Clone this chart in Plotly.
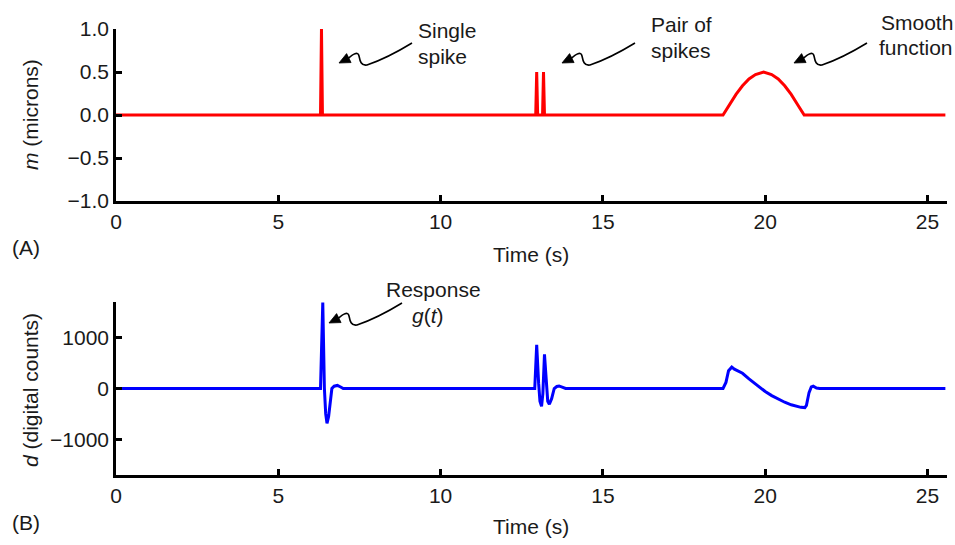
import plotly.graph_objects as go

# ---- data -------------------------------------------------------------
# Input model m(t): one spike, a pair of spikes and a smooth half-sine bump
m_time = [0.00, 6.30, 6.33, 6.36,
          12.93, 12.96, 12.99, 13.14, 13.17, 13.20,
          18.70, 18.90, 19.10, 19.30, 19.50, 19.70, 19.95,
          20.20, 20.40, 20.60, 20.80, 21.00, 21.20, 25.55]
m_microns = [0.0, 0.0, 1.0, 0.0,
             0.0, 0.5, 0.0, 0.0, 0.5, 0.0,
             0.0, 0.12, 0.24, 0.34, 0.42, 0.47, 0.50,
             0.47, 0.42, 0.34, 0.24, 0.12, 0.0, 0.0]

# Recorded output d(t)
d_time = [0.00, 6.30, 6.37, 6.42, 6.46, 6.50, 6.55, 6.60, 6.65, 6.72, 6.82, 6.92, 7.00,
          12.90, 12.96, 13.02, 13.06, 13.11, 13.15, 13.20, 13.26, 13.30, 13.35, 13.42,
          13.50, 13.58, 13.65, 13.75, 13.85,
          18.70, 18.79, 18.87, 18.97, 19.05, 19.30, 19.50, 19.80, 20.00, 20.20, 20.40,
          20.60, 20.80, 21.00, 21.10, 21.22, 21.27, 21.35, 21.42, 21.48, 21.58, 21.68,
          25.55]
d_counts = [0, 0, 1690, 0, -500, -686, -550, -250, 0, 45, 60, 30, 0,
            0, 860, 100, -250, -350, -100, 670, 0, -250, -310, -200,
            0, 40, 50, 20, 0,
            0, 120, 350, 420, 380, 300, 190, 40, -60, -140, -210,
            -270, -320, -360, -370, -375, -330, -80, 30, 45, 10, 0,
            0]

time_ticks = [0, 5, 10, 15, 20, 25]
m_ticks = [-1.0, -0.5, 0.0, 0.5, 1.0]
m_tick_text = ["\u22121.0", "\u22120.5", "0.0", "0.5", "1.0"]
d_ticks = [-1000, 0, 1000]
d_tick_text = ["\u22121000", "0", "1000"]

# ---- layout helpers ---------------------------------------------------
W, H = 955, 545
FONT = "Liberation Sans, Arial, Helvetica, sans-serif"
TXT = "#1a1a1a"
FS = 21


def px(x):
    return x / W


def py(y):
    return 1 - y / H


def squiggle(tip_x, tip_y):
    """Wavy arrow shaft plus a filled head ending at the pixel (tip_x, tip_y)."""
    def p(dx, dy):
        return f"{px(tip_x + dx):.5f},{py(tip_y + dy):.5f}"
    shaft = (f"M {p(9, -4.5)} C {p(14, -9)} {p(19, -12)} {p(20, -7)} "
             f"C {p(21, -2)} {p(22, 3)} {p(28, 2)} "
             f"C {p(40, -2)} {p(55, -9)} {p(73, -20)}")
    # head: pointing along (-10, 5)
    ux, uy = -0.894, 0.447
    nx, ny = -uy, ux
    L, hw = 11, 5
    bx, by = -ux * L, -uy * L
    head = (f"M {p(0, 0)} L {p(bx + nx * hw, by + ny * hw)} "
            f"L {p(bx - nx * hw, by - ny * hw)} Z")
    return [
        dict(type="path", xref="paper", yref="paper", path=shaft,
             line=dict(color="black", width=1.6)),
        dict(type="path", xref="paper", yref="paper", path=head,
             fillcolor="black", line=dict(color="black", width=0.8)),
    ]


def label(x, y, text, xanchor="left", angle=0):
    return dict(x=px(x), y=py(y), xref="paper", yref="paper", text=text,
                showarrow=False, xanchor=xanchor, yanchor="middle",
                textangle=angle, font=dict(family=FONT, size=FS, color=TXT))


# ---- figure -----------------------------------------------------------
fig = go.Figure()
fig.add_trace(go.Scatter(x=m_time, y=m_microns, mode="lines",
                         line=dict(color="#ff0000", width=3),
                         xaxis="x", yaxis="y", showlegend=False))
fig.add_trace(go.Scatter(x=d_time, y=d_counts, mode="lines",
                         line=dict(color="#0000ff", width=3),
                         xaxis="x2", yaxis="y2", showlegend=False))

axis_common = dict(showgrid=False, zeroline=False, showline=True,
                   linecolor="black", linewidth=2.5, ticks="inside",
                   ticklen=6, tickwidth=2.5, tickcolor="black",
                   tickfont=dict(family=FONT, size=FS, color=TXT),
                   automargin=False)

x_dom = [px(116), px(947)]
fig.update_layout(
    width=W, height=H,
    margin=dict(l=0, r=0, t=0, b=0),
    paper_bgcolor="white", plot_bgcolor="white",
    xaxis=dict(domain=x_dom, anchor="y", range=[0, 25.6],
               tickvals=time_ticks, **axis_common),
    yaxis=dict(domain=[py(201), py(29)], anchor="x", range=[-1, 1],
               tickvals=m_ticks, ticktext=m_tick_text, **axis_common),
    xaxis2=dict(domain=x_dom, anchor="y2", range=[0, 25.6],
                tickvals=time_ticks, **axis_common),
    yaxis2=dict(domain=[py(475), py(302)], anchor="x2", range=[-1700, 1700],
                tickvals=d_ticks, ticktext=d_tick_text, **axis_common),
)

shapes = []
for tip in [(339, 63), (562, 63), (794, 63), (329, 323)]:
    shapes += squiggle(*tip)
fig.update_layout(shapes=shapes)

annotations = [
    label(416, 30, "Single"),
    label(416, 56, "spike"),
    label(649, 24, "Pair of"),
    label(649, 50, "spikes"),
    label(879, 22, "Smooth"),
    label(877, 47, "function"),
    label(433, 289, "Response", xanchor="center"),
    label(428, 315, "<i>g</i>(<i>t</i>)", xanchor="center"),
    label(531, 254, "Time (s)", xanchor="center"),
    label(531, 526, "Time (s)", xanchor="center"),
    label(26, 247, "(A)", xanchor="center"),
    label(26, 522, "(B)", xanchor="center"),
    label(30, 115, "<i>m</i> (microns)", xanchor="center", angle=-90),
    label(30, 390, "<i>d</i> (digital counts)", xanchor="center", angle=-90),
]
fig.update_layout(annotations=annotations)

fig.write_html("out.html")
